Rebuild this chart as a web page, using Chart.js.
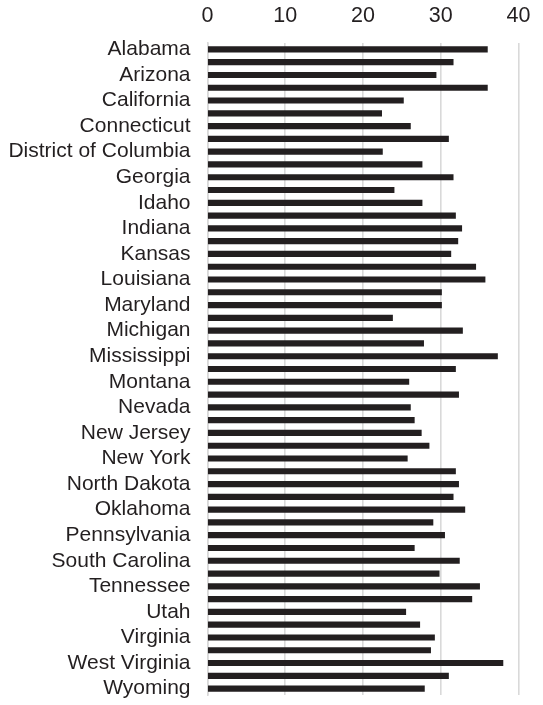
<!DOCTYPE html>
<html>
<head>
<meta charset="utf-8">
<script src="https://cdn.jsdelivr.net/npm/chart.js@4/dist/chart.umd.min.js"></script>
<style>
    html, body { margin: 0; padding: 0; background: #ffffff; }
    #wrap { width: 543px; height: 705px; position: relative; }
</style>
</head>
<body>
<div id="wrap"><canvas id="stateChart"></canvas></div>
<script>
const states = [
    'Alabama', 'Alaska', 'Arizona', 'Arkansas', 'California', 'Colorado', 'Connecticut',
    'Delaware', 'District of Columbia', 'Florida', 'Georgia', 'Hawaii', 'Idaho', 'Illinois',
    'Indiana', 'Iowa', 'Kansas', 'Kentucky', 'Louisiana', 'Maine', 'Maryland',
    'Massachusetts', 'Michigan', 'Minnesota', 'Mississippi', 'Missouri', 'Montana',
    'Nebraska', 'Nevada', 'New Hampshire', 'New Jersey', 'New Mexico', 'New York',
    'North Carolina', 'North Dakota', 'Ohio', 'Oklahoma', 'Oregon', 'Pennsylvania',
    'Rhode Island', 'South Carolina', 'South Dakota', 'Tennessee', 'Texas', 'Utah',
    'Vermont', 'Virginia', 'Washington', 'West Virginia', 'Wisconsin', 'Wyoming'
];

const values = [
    36.0, 31.6, 29.4, 36.0, 25.2, 22.4, 26.1,
    31.0, 22.5, 27.6, 31.6, 24.0, 27.6, 31.9,
    32.7, 32.2, 31.3, 34.5, 35.7, 30.1, 30.1,
    23.8, 32.8, 27.8, 37.3, 31.9, 25.9,
    32.3, 26.1, 26.6, 27.5, 28.5, 25.7,
    31.9, 32.3, 31.6, 33.1, 29.0, 30.5,
    26.6, 32.4, 29.8, 35.0, 34.0, 25.5,
    27.3, 29.2, 28.7, 38.0, 31.0, 27.9
];

const xTicks = [0, 10, 20, 30, 40];

const ink = '#231f20';
const gridGrey = '#d9d9d9';
const fontFamily = '"Liberation Sans", Arial, Helvetica, sans-serif';

(function () {
    const ctx = document.getElementById('stateChart').getContext('2d');
    new Chart(ctx, {
        type: 'bar',
        data: {
            labels: states,
            datasets: [{
                data: values,
                backgroundColor: ink,
                borderWidth: 0,
                barThickness: 5.5
            }]
        },
        options: {
            indexAxis: 'y',
            responsive: true,
            maintainAspectRatio: false,
            animation: false,
            layout: {
                padding: { left: 0, right: 24.5, top: 0, bottom: 10 }
            },
            plugins: {
                legend: { display: false },
                tooltip: { enabled: false },
                title: { display: false }
            },
            scales: {
                x: {
                    position: 'top',
                    min: xTicks[0],
                    max: xTicks[xTicks.length - 1],
                    afterBuildTicks: (scale) => {
                        scale.ticks = xTicks.map((v) => ({ value: v }));
                    },
                    afterFit: (scale) => {
                        scale.height = 43;
                        scale.paddingLeft = 0;
                        scale.paddingRight = 0;
                    },
                    grid: {
                        color: gridGrey,
                        lineWidth: 1.6,
                        drawTicks: false
                    },
                    border: { display: false },
                    ticks: {
                        color: ink,
                        padding: 14,
                        font: { family: fontFamily, size: 21.5 }
                    }
                },
                y: {
                    afterFit: (scale) => {
                        scale.width = 207.5;
                        scale.paddingTop = 0;
                        scale.paddingBottom = 0;
                    },
                    grid: { display: false, drawTicks: false },
                    border: { display: true, color: gridGrey, width: 1.6 },
                    ticks: {
                        autoSkip: false,
                        color: ink,
                        padding: 17,
                        font: { family: fontFamily, size: 21 },
                        callback: (value, index) => index % 2 === 0 ? states[index] : ''
                    }
                }
            }
        }
    });
})();
</script>
</body>
</html>
